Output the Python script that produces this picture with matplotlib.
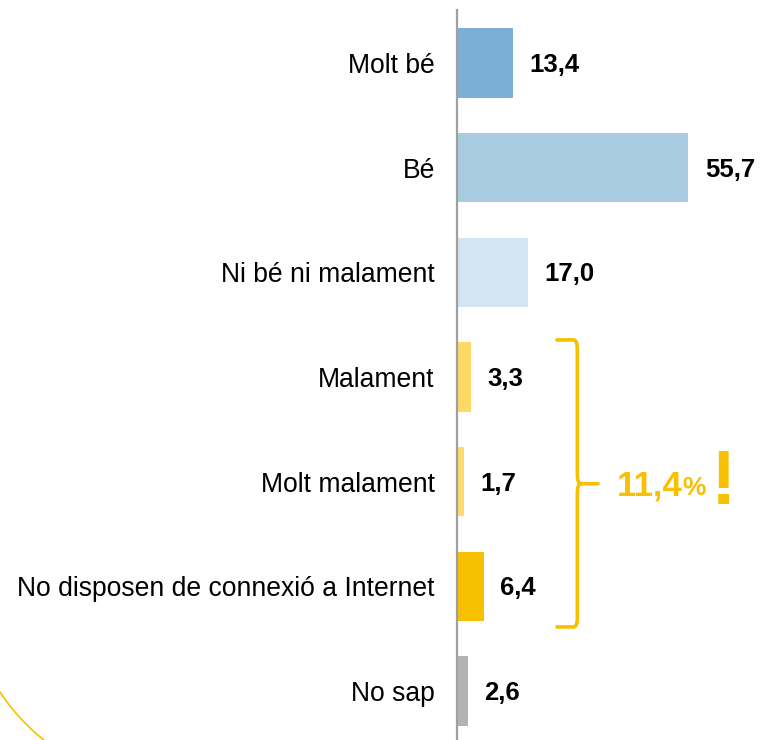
import numpy as np
import matplotlib
matplotlib.use("Agg")
from matplotlib import pyplot as plt
from matplotlib.path import Path
from matplotlib.patches import PathPatch

plt.rcParams['font.family'] = ['Liberation Sans', 'DejaVu Sans']

categories = ["Molt bé", "Bé", "Ni bé ni malament", "Malament", "Molt malament",
              "No disposen de connexió a Internet", "No sap"]
values = [13.4, 55.7, 17.0, 3.3, 1.7, 6.4, 2.6]
colors = ["#7BAFD4", "#A9CBE2", "#D4E4F1", "#FFD966", "#FFDB6B", "#F7C000", "#B3B3B3"]
group_total = "11,4"
group_idx = [3, 4, 5]

YELLOW = "#F7C000"

fig = plt.figure(figsize=(7.6, 7.4), dpi=100)

# decorative arc bottom-left (pixel coords overlay)
bg = fig.add_axes([0, 0, 1, 1], zorder=0)
bg.set_xlim(0, 760)
bg.set_ylim(740, 0)
bg.axis('off')
t = np.radians(np.linspace(120, 160, 100))
bg.plot(175 + 210 * np.cos(t), 576 + 210 * np.sin(t), color=YELLOW, lw=1.2)

ax = fig.add_axes([457 / 760, 0, 300 / 760, 730 / 740], zorder=1)
ax.patch.set_alpha(0)
y = np.arange(len(categories))
ax.barh(y, values, height=0.66, color=colors)
ax.set_xlim(0, 300 / 4.15)
ax.set_ylim(6.468, -0.506)

for s in ['top', 'right', 'bottom']:
    ax.spines[s].set_visible(False)
ax.spines['left'].set_color('#A0A0A0')
ax.spines['left'].set_linewidth(1.6)
ax.set_xticks([])
ax.set_yticks(y)
ax.set_yticklabels(categories, fontsize=19.1, color='black')
ax.tick_params(axis='y', length=0, pad=16)

for yi, v in zip(y, values):
    ax.annotate(f"{v:.1f}".replace('.', ','), xy=(v, yi), xytext=(12, -1.5),
                textcoords='offset points', ha='left', va='center',
                fontsize=18.5, fontweight='bold', color='black')

# brace around the negative group
top = group_idx[0] - 0.354
bot = group_idx[-1] + 0.388
mid = (group_idx[0] + group_idx[-1]) / 2 + 0.02
xa, xv, xt = 24.1, 29.0, 34.0
r = 0.9
ry = 0.09
verts = [(xa, top), (xv - r, top), (xv, top), (xv, top + ry),
         (xv, mid - ry), (xv, mid), (xv + r, mid), (xt, mid),
         (xv + r, mid), (xv, mid), (xv, mid + ry),
         (xv, bot - ry), (xv, bot), (xv - r, bot), (xa, bot)]
codes = [Path.MOVETO, Path.LINETO, Path.CURVE3, Path.CURVE3,
         Path.LINETO, Path.CURVE3, Path.CURVE3, Path.LINETO,
         Path.MOVETO, Path.CURVE3, Path.CURVE3,
         Path.LINETO, Path.CURVE3, Path.CURVE3, Path.LINETO]
ax.add_patch(PathPatch(Path(verts, codes), fill=False, edgecolor=YELLOW,
                       lw=2.6, capstyle='round', joinstyle='round', clip_on=False))

base = mid + 0.11
t1 = ax.text(38.4, base, group_total, fontsize=25, fontweight='bold',
             color=YELLOW, ha='left', va='baseline')
t2 = ax.annotate('%', xy=(1, base), xycoords=(t1, 'data'), xytext=(0.5, 0),
                 textcoords='offset points', fontsize=19, fontweight='bold',
                 color=YELLOW, ha='left', va='baseline')
ax.annotate('!', xy=(1, base), xycoords=(t2, 'data'), xytext=(3, -6),
            textcoords='offset points', fontsize=55, fontweight='bold',
            color=YELLOW, ha='left', va='baseline', annotation_clip=False)

plt.savefig("out.png", dpi=100)
